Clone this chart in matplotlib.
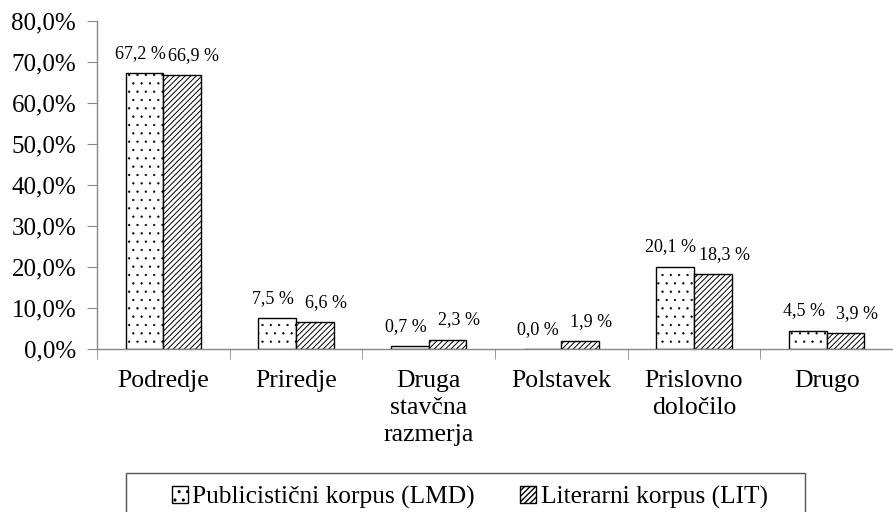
import matplotlib
matplotlib.use("Agg")
import matplotlib.pyplot as plt
from matplotlib.patches import Rectangle
import numpy as np

categories = ["Podredje", "Priredje", "Druga\nstavčna\nrazmerja", "Polstavek", "Prislovno\ndoločilo", "Drugo"]
lmd = [67.2, 7.5, 0.7, 0.0, 20.1, 4.5]
lit = [66.9, 6.6, 2.3, 1.9, 18.3, 3.9]
series_names = ["Publicistični korpus (LMD)", "Literarni korpus (LIT)"]
yticks = [0, 10, 20, 30, 40, 50, 60, 70, 80]

plt.rcParams['font.family'] = ['Liberation Serif', 'DejaVu Serif']

fig = plt.figure(figsize=(8.93, 5.12), dpi=100)
ax = fig.add_axes([97/893, 1-349/512, 1-97/893, (349-21)/512])

x = np.arange(len(categories))
w = 0.285
with plt.rc_context({'hatch.linewidth': 0.4}):
    b1 = ax.bar(x - w/2, lmd, w, facecolor='white', edgecolor='black', hatch='..',
                linewidth=1.0, label=series_names[0])
with plt.rc_context({'hatch.linewidth': 0.7}):
    b2 = ax.bar(x + w/2, lit, w, facecolor='white', edgecolor='black', hatch='//////',
                linewidth=1.0, label=series_names[1])

def fmt(v):
    return f"{v:.1f}".replace('.', ',') + " %"

for xi, v in zip(x - w/2, lmd):
    ax.annotate(fmt(v), (xi, v), xytext=(-3, 8), textcoords='offset points',
                ha='center', va='bottom', fontsize=13)
for xi, v in zip(x + w/2, lit):
    ax.annotate(fmt(v), (xi, v), xytext=(8, 8), textcoords='offset points',
                ha='center', va='bottom', fontsize=13)

ax.set_xlim(-0.5, len(categories) - 0.5)
ax.set_ylim(0, 80)
ax.set_yticks(yticks)
ax.set_yticklabels([f"{t:.1f}".replace('.', ',') + "%" for t in yticks], fontsize=18)

ax.set_xticks(x)
ax.set_xticklabels(categories, fontsize=18.5, va='top', linespacing=1.3)
ax.tick_params(axis='x', length=0, pad=15)
ax.set_xticks(np.arange(len(categories) + 1) - 0.5, minor=True)
ax.tick_params(axis='x', which='minor', length=7, color='#888888', direction='out')
ax.tick_params(axis='y', length=7, color='#888888', direction='out', pad=8)

for s in ['top', 'right']:
    ax.spines[s].set_visible(False)
for s in ['left', 'bottom']:
    ax.spines[s].set_color('#888888')
    ax.spines[s].set_linewidth(1.0)

# legend box drawn in figure pixels
fig.patches.append(Rectangle((126/893, 1-514/512), (805-126)/893, (514-473)/512,
                             transform=fig.transFigure, facecolor='white',
                             edgecolor='#555555', linewidth=1.0))
leg = fig.legend(handles=[b1, b2], loc='center left', bbox_to_anchor=(172/893, 1-497/512), ncol=2,
                 fontsize=18.3, frameon=False,
                 handlelength=0.63, handleheight=0.63, handletextpad=0.16, columnspacing=1.8,
                 borderpad=0.0, borderaxespad=0.0)

fig.savefig("out.png", dpi=100)
